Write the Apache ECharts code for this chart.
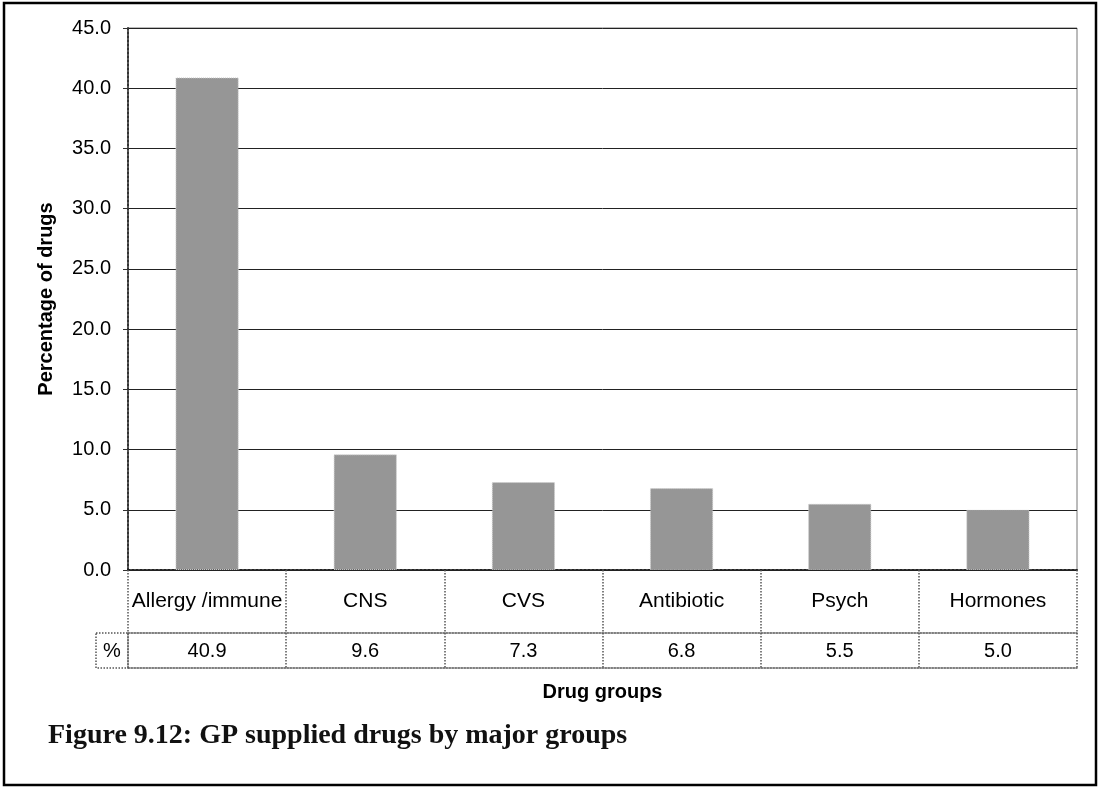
<!DOCTYPE html>
<html>
<head>
<meta charset="utf-8">
<title>GP supplied drugs by major groups</title>
<script src="https://cdn.jsdelivr.net/npm/echarts@6/dist/echarts.min.js"></script>
<style>
  html, body { margin: 0; padding: 0; background: #fff; }
  #chart { width: 1099px; height: 787px; }
</style>
</head>
<body>
<div id="chart"></div>
<script>
// Drug groups and the share of GP-supplied drugs in each (%)
const categories = ['Allergy /immune', 'CNS', 'CVS', 'Antibiotic', 'Psych', 'Hormones'];
const percentages = [40.9, 9.6, 7.3, 6.8, 5.5, 5.0];

// Value axis ticks
const yMin = 0;
const yMax = 45;
const yStep = 5;

const FONT = '"Liberation Sans", Arial, sans-serif';
const tableLine = { color: '#555', width: 1.5, type: 'dotted' };

const chart = echarts.init(document.getElementById('chart'), null, { renderer: 'canvas' });

const option = {
  backgroundColor: '#fff',
  animation: false,
  textStyle: { fontFamily: FONT },
  title: {
    text: 'Figure 9.12: GP supplied drugs by major groups',
    left: 43,
    top: 717,
    textStyle: {
      fontFamily: '"Liberation Serif", "DejaVu Serif", serif',
      fontWeight: 'bold',
      fontSize: 28,
      color: '#111'
    }
  },
  grid: {
    left: 128,
    right: 22,
    top: 28,
    bottom: 217,
    show: true,
    borderColor: '#777',
    borderWidth: 1,
    containLabel: false
  },
  xAxis: [
    {
      // category row of the data table
      type: 'category',
      data: categories,
      position: 'bottom',
      axisLine: { show: true, lineStyle: { color: '#222', width: 2, type: 'dotted' } },
      axisTick: { show: true, interval: 0, length: 63, lineStyle: tableLine },
      axisLabel: { interval: 0, fontSize: 21, color: '#000', margin: 21, fontFamily: FONT }
    },
    {
      // value row of the data table
      type: 'category',
      data: categories,
      position: 'bottom',
      offset: 63,
      axisLine: { show: true, lineStyle: tableLine },
      axisTick: { show: true, interval: 0, length: 35, lineStyle: tableLine },
      axisLabel: {
        interval: 0, fontSize: 20, color: '#000', margin: 8, fontFamily: FONT,
        formatter: (v, i) => percentages[i].toFixed(1)
      }
    },
    {
      // bottom edge of the table and the axis title
      type: 'category',
      data: categories,
      position: 'bottom',
      offset: 98,
      axisLine: { show: true, lineStyle: tableLine },
      axisTick: { show: false },
      axisLabel: { show: false },
      name: 'Drug groups',
      nameLocation: 'middle',
      nameGap: 14,
      nameTextStyle: { fontSize: 20, fontWeight: 'bold', color: '#000', fontFamily: FONT, verticalAlign: 'top' }
    }
  ],
  yAxis: {
    type: 'value',
    min: yMin,
    max: yMax,
    interval: yStep,
    axisLine: { show: true, lineStyle: { color: '#333', width: 2, type: 'dotted' } },
    axisTick: { show: true, length: 5, lineStyle: { color: '#333', width: 1 } },
    axisLabel: { fontSize: 20, color: '#000', margin: 17, fontFamily: FONT, formatter: v => v.toFixed(1) },
    splitLine: { show: true, lineStyle: { color: '#222', width: 1 } },
    name: 'Percentage of drugs',
    nameLocation: 'middle',
    nameGap: 72,
    nameTextStyle: { fontSize: 20, fontWeight: 'bold', color: '#000', fontFamily: FONT }
  },
  series: [
    {
      type: 'bar',
      xAxisIndex: 0,
      data: percentages,
      barWidth: '40%',
      itemStyle: { color: '#969696', borderColor: '#cfcfcf', borderWidth: 1, borderType: 'dotted' }
    }
  ],
  graphic: [
    {
      // outer frame
      type: 'rect',
      shape: { x: 4, y: 3, width: 1092, height: 782 },
      style: { fill: 'none', stroke: '#000', lineWidth: 2.5 },
      z: 10
    },
    {
      // label cell of the value row
      type: 'rect',
      shape: { x: 96, y: 633, width: 32, height: 35 },
      style: { fill: 'none', stroke: '#555', lineWidth: 1.5, lineDash: [1.5, 1.5] }
    },
    {
      type: 'text',
      x: 112,
      y: 651,
      style: { text: '%', font: '20px ' + FONT, fill: '#000', align: 'center', verticalAlign: 'middle' }
    }
  ]
};

chart.setOption(option);
</script>
</body>
</html>
